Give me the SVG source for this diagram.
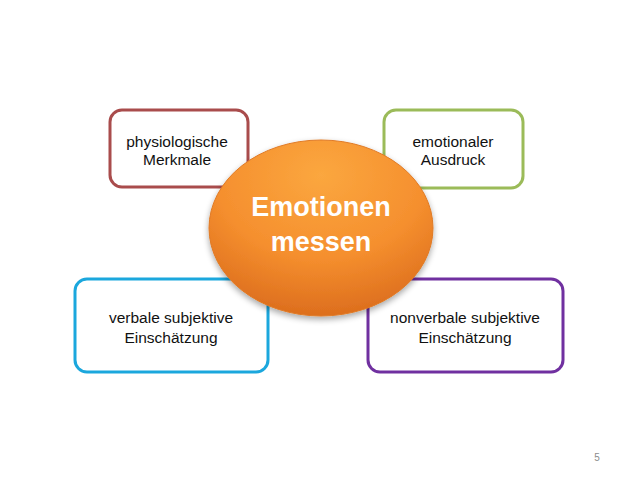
<svg xmlns="http://www.w3.org/2000/svg" width="638" height="479" viewBox="0 0 638 479">
<style>
.box{fill:#ffffff;stroke-width:3}
.lbl{font-family:"Liberation Sans",Arial,sans-serif;font-size:15.5px;fill:#111111;text-anchor:middle}
.big{font-family:"Liberation Sans",Arial,sans-serif;font-size:27px;font-weight:bold;fill:#ffffff;text-anchor:middle}
</style>
<defs>
<radialGradient id="og" cx="0.5" cy="0.2" r="0.85">
<stop offset="0" stop-color="#FBA73F"/>
<stop offset="0.55" stop-color="#F58F2E"/>
<stop offset="1" stop-color="#D9691B"/>
</radialGradient>
<filter id="sh" x="-20%" y="-20%" width="140%" height="150%">
<feGaussianBlur in="SourceAlpha" stdDeviation="3"/>
<feOffset dx="0" dy="3" result="b"/>
<feComponentTransfer><feFuncA type="linear" slope="0.35"/></feComponentTransfer>
<feMerge><feMergeNode/><feMergeNode in="SourceGraphic"/></feMerge>
</filter>
</defs>
<rect width="638" height="479" fill="#ffffff"/>
<g id="connectors"></g>
<g id="n1">
<rect class="box" x="110" y="110" width="138" height="77" rx="12" stroke="#A94C4C"/>
<text class="lbl" x="177" y="147">physiologische</text>
<text class="lbl" x="177" y="165">Merkmale</text>
</g>
<g id="n2">
<rect class="box" x="384" y="110" width="139" height="78" rx="12" stroke="#9BBB59"/>
<text class="lbl" x="453" y="147">emotionaler</text>
<text class="lbl" x="453" y="165">Ausdruck</text>
</g>
<g id="n3">
<rect class="box" x="75" y="279" width="193" height="93" rx="12" stroke="#1BA7DD"/>
<text class="lbl" x="171" y="323">verbale subjektive</text>
<text class="lbl" x="171" y="343">Einschätzung</text>
</g>
<g id="n4">
<rect class="box" x="368" y="279" width="195" height="93" rx="12" stroke="#7030A0"/>
<text class="lbl" x="465" y="323">nonverbale subjektive</text>
<text class="lbl" x="465" y="343">Einschätzung</text>
</g>
<g id="center">
<ellipse cx="321" cy="228" rx="112" ry="88" fill="url(#og)" stroke="#E07A25" stroke-width="1" filter="url(#sh)"/>
<text class="big" x="321" y="216">Emotionen</text>
<text class="big" x="321" y="251">messen</text>
</g>
<text x="597" y="461" font-family="'Liberation Sans',Arial,sans-serif" font-size="10" fill="#8c8c8c" text-anchor="middle">5</text>
</svg>
